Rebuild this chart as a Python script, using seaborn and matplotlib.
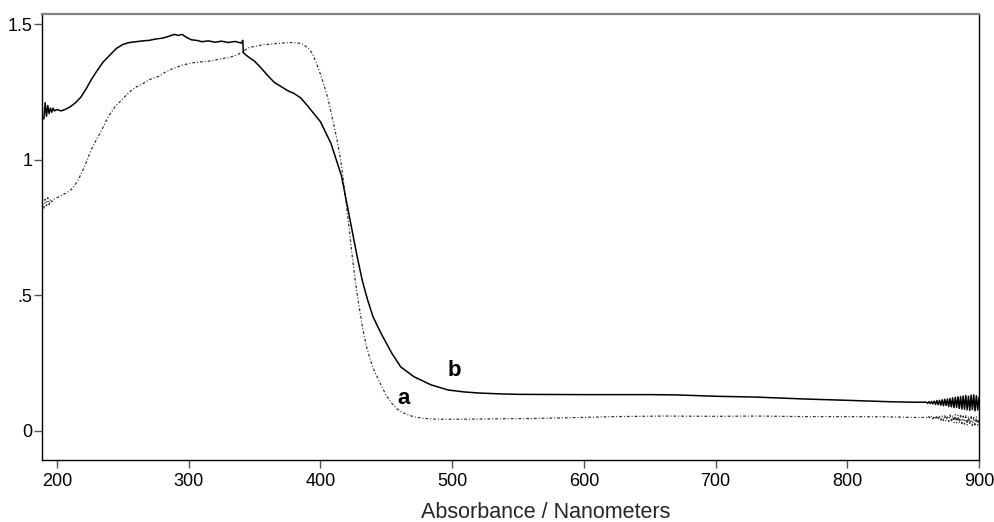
import matplotlib
matplotlib.use("Agg")
import matplotlib.pyplot as plt
import seaborn as sns
import pandas as pd

# ---------------- data ----------------
b_nm = [190, 191, 192, 193, 194, 195, 196, 197, 198, 200, 203, 206, 210, 214, 218, 222, 226, 230,
        235, 240, 245, 250, 255, 260, 265, 270, 275, 280, 285, 289, 292, 295, 298, 302, 306, 310,
        315, 320, 325, 330, 335, 340, 341, 341.5, 345, 350, 355, 360, 365, 370, 375, 380, 385, 390,
        395, 400, 404, 408, 412, 416, 420, 424, 428, 432, 436, 440, 446, 454, 461, 471, 484, 497,
        509, 520, 535, 550, 600, 650, 670, 700, 730, 767, 800, 831, 850,
        860, 861, 862, 863, 864, 865, 866, 867, 868, 869, 870, 871, 872, 873, 874, 875, 876, 877,
        878, 879, 880, 881, 882, 883, 884, 885, 886, 887, 888, 889, 890, 891, 892, 893, 894, 895,
        896, 897, 898, 899, 900]
b_abs = [1.15, 1.21, 1.16, 1.20, 1.17, 1.19, 1.175, 1.19, 1.18, 1.185, 1.18, 1.185, 1.195, 1.21,
         1.23, 1.26, 1.295, 1.325, 1.36, 1.385, 1.41, 1.425, 1.432, 1.435, 1.438, 1.44, 1.445,
         1.448, 1.455, 1.462, 1.458, 1.462, 1.452, 1.442, 1.44, 1.435, 1.438, 1.433, 1.437, 1.432,
         1.436, 1.43, 1.44, 1.394, 1.38, 1.363, 1.338, 1.31, 1.285, 1.27, 1.255, 1.244, 1.228, 1.2,
         1.17, 1.14, 1.10, 1.06, 1.00, 0.94, 0.84, 0.74, 0.64, 0.55, 0.48, 0.42, 0.36, 0.288, 0.236,
         0.20, 0.17, 0.151, 0.144, 0.14, 0.137, 0.135, 0.134, 0.134, 0.133, 0.128, 0.125, 0.118,
         0.113, 0.108, 0.106,
         0.106, 0.102, 0.108, 0.101, 0.109, 0.100, 0.110, 0.098, 0.112, 0.097, 0.113, 0.095, 0.115,
         0.093, 0.117, 0.094, 0.118, 0.090, 0.120, 0.089, 0.122, 0.086, 0.124, 0.087, 0.126, 0.083,
         0.127, 0.081, 0.129, 0.080, 0.131, 0.078, 0.128, 0.076, 0.132, 0.079, 0.133, 0.074, 0.130,
         0.077, 0.125]

a_nm = [190, 191, 192, 193, 194, 195, 196, 198, 200, 204, 208, 212, 216, 220, 223, 226, 230, 234,
        239, 244, 249, 255, 260, 264, 270, 277, 283, 289, 295, 302, 308, 315, 320, 325, 330, 335,
        340, 345, 350, 357, 364, 370, 378, 383, 387, 391, 394, 397, 400, 403, 406, 408.5, 411,
        413.5, 416, 418, 420, 422, 424, 426, 428, 430, 432, 435, 438, 441, 446, 450, 454, 458,
        461.5, 466, 471, 478, 484, 500, 522, 560, 600, 623, 661, 700, 730, 767, 800, 831, 850,
        860, 861, 862, 863, 864, 865, 866, 867, 868, 869, 870, 871, 872, 873, 874, 875, 876, 877,
        878, 879, 880, 881, 882, 883, 884, 885, 886, 887, 888, 889, 890, 891, 892, 893, 894, 895,
        896, 897, 898, 899, 900]
a_abs = [0.82, 0.855, 0.83, 0.86, 0.835, 0.855, 0.845, 0.855, 0.86, 0.87, 0.88, 0.895, 0.925,
         0.965, 1.0, 1.037, 1.075, 1.11, 1.159, 1.195, 1.22, 1.25, 1.268, 1.277, 1.295, 1.307,
         1.325, 1.338, 1.348, 1.357, 1.36, 1.363, 1.367, 1.373, 1.376, 1.383, 1.395, 1.412, 1.418,
         1.424, 1.427, 1.43, 1.432, 1.43, 1.425, 1.41, 1.39, 1.355, 1.315, 1.27, 1.22, 1.165, 1.11,
         1.05, 0.98, 0.90, 0.82, 0.74, 0.65, 0.57, 0.50, 0.44, 0.38, 0.31, 0.26, 0.22, 0.17, 0.13,
         0.103, 0.082, 0.07, 0.06, 0.052, 0.047, 0.044, 0.043, 0.044, 0.046, 0.05, 0.053, 0.055,
         0.054, 0.055, 0.053, 0.053, 0.052, 0.05,
         0.050, 0.047, 0.053, 0.046, 0.054, 0.045, 0.055, 0.043, 0.056, 0.042, 0.057, 0.040, 0.055,
         0.038, 0.058, 0.037, 0.056, 0.035, 0.059, 0.034, 0.057, 0.032, 0.060, 0.030, 0.058, 0.028,
         0.061, 0.027, 0.055, 0.025, 0.058, 0.022, 0.054, 0.024, 0.056, 0.020, 0.050, 0.018, 0.052,
         0.022, 0.045]

x_ticks = [200, 300, 400, 500, 600, 700, 800, 900]
y_ticks = [0, 0.5, 1, 1.5]
y_tick_labels = ["0", ".5", "1", "1.5"]
x_label = "Absorbance / Nanometers"
curve_labels = ["a", "b"]
label_pos = [(463, 0.10), (502, 0.203)]

# ---------------- plot ----------------
sns.set_style("ticks")
plt.rcParams["font.family"] = ["Liberation Sans", "DejaVu Sans"]

fig = plt.figure(figsize=(9.94, 5.22), dpi=100)
ax = fig.add_axes([42 / 994, 1 - 460 / 522, 937 / 994, (460 - 13.5) / 522])

df_b = pd.DataFrame({"nm": b_nm, "abs": b_abs})
df_a = pd.DataFrame({"nm": a_nm, "abs": a_abs})

sns.lineplot(data=df_a, x="nm", y="abs", ax=ax, estimator=None, sort=False,
             color="#333333", linewidth=0.9, dashes=False)
ax.lines[-1].set_linestyle((0, (2.2, 1.6, 0.8, 1.6)))
sns.lineplot(data=df_b, x="nm", y="abs", ax=ax, estimator=None, sort=False,
             color="black", linewidth=1.1)

for lab, (xx, yy) in zip(curve_labels, label_pos):
    ax.text(xx, yy, lab, fontsize=16, fontweight="bold", ha="center", va="baseline",
            color="black")

ax.set_xlim(188.6, 900)
ax.set_ylim(-0.107, 1.539)
ax.set_xticks(x_ticks)
ax.set_yticks(y_ticks, y_tick_labels)
ax.tick_params(axis="both", direction="out", length=6, width=1, color="#555555",
               labelsize=13, labelcolor="black")
ax.tick_params(axis="x", pad=3)
ax.tick_params(axis="y", pad=1)

ax.set_xlabel(x_label, fontsize=15.5)
ax.set_ylabel("")
ax.xaxis.set_label_coords(0.538, -0.094)

for side in ["left", "bottom", "right"]:
    ax.spines[side].set_color("black")
    ax.spines[side].set_linewidth(1.0)
ax.spines["top"].set_color("#808080")
ax.spines["top"].set_linewidth(1.6)

fig.savefig("out.png", dpi=100)
